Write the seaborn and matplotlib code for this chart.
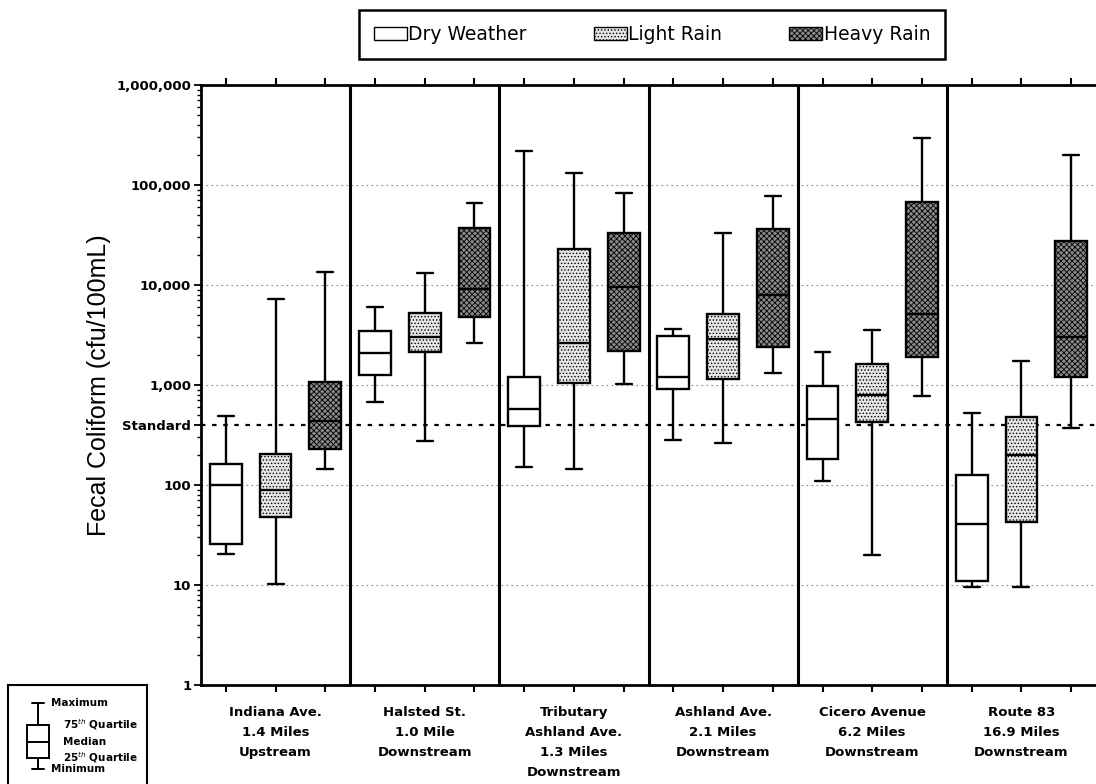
import pandas as pd
import numpy as np
import matplotlib
matplotlib.use('Agg')
import matplotlib.pyplot as plt
import seaborn as sns
from matplotlib.patches import Patch
from matplotlib.ticker import NullFormatter

# Site labels and sample conditions
sites = ['Indiana Ave.\n1.4 Miles\nUpstream',
         'Halsted St.\n1.0 Mile\nDownstream',
         'Tributary\nAshland Ave.\n1.3 Miles\nDownstream',
         'Ashland Ave.\n2.1 Miles\nDownstream',
         'Cicero Avenue\n6.2 Miles\nDownstream',
         'Route 83\n16.9 Miles\nDownstream']
conditions = ['Dry Weather', 'Light Rain', 'Heavy Rain']

# Five-number summaries per site: (min, 25th, median, 75th, max), cfu/100mL
dry_weather = [(20.6, 25.7, 101, 161, 493),
               (681, 1250, 2105, 3467, 5990),
               (152, 389, 571, 1211, 220000),
               (282, 919, 1211, 3090, 3660),
               (110, 182, 452, 984, 2160),
               (9.5, 11, 41, 125, 520)]
light_rain = [(10.3, 48, 88.5, 204, 7244),
              (277, 2138, 3040, 5210, 13300),
              (146, 1040, 2612, 22900, 131000),
              (261, 1140, 2864, 5130, 33400),
              (20, 423, 787, 1618, 3580),
              (9.5, 43, 200, 480, 1750)]
heavy_rain = [(144, 227, 437, 1080, 13400),
              (2650, 4750, 9060, 37400, 66500),
              (1023, 2188, 9490, 32900, 82600),
              (1329, 2417, 8000, 36600, 78200),
              (780, 1900, 5100, 68000, 294000),
              (370, 1200, 3000, 27500, 200000)]

standard = 400
y_ticks = [1, 10, 100, standard, 1000, 10000, 100000, 1000000]
y_ticklabels = ['1', '10', '100', 'Standard', '1,000', '10,000', '100,000', '1,000,000']
grid_levels = [10, 100, 1000, 10000, 100000]

# Legend key for the box elements
key_values = [0, 11, 27, 44, 66]
key_labels = ['Minimum', '25$^{th}$ Quartile', 'Median', '75$^{th}$ Quartile', 'Maximum']

rows = []
for cond, summaries in zip(conditions, [dry_weather, light_rain, heavy_rain]):
    for site, summ in zip(sites, summaries):
        for v in summ:
            rows.append({'site': site, 'condition': cond, 'value': v})
df = pd.DataFrame(rows)

sns.set_style('ticks')
plt.rcParams['font.family'] = ['DejaVu Sans']
plt.rcParams['hatch.linewidth'] = 0.6
plt.rcParams['hatch.color'] = 'black'
for key in ['text.color', 'axes.labelcolor', 'xtick.color', 'ytick.color', 'axes.edgecolor']:
    plt.rcParams[key] = 'black'

palette = {'Dry Weather': '#ffffff', 'Light Rain': '#e6e6e6', 'Heavy Rain': '#8a8a8a'}
hatches = {'Dry Weather': '', 'Light Rain': '.....', 'Heavy Rain': 'xxxxxx'}

fig = plt.figure(figsize=(10.96, 7.84), dpi=100)
ax = fig.add_axes([201 / 1096, 1 - 685 / 784, 895 / 1096, 600 / 784])

sns.boxplot(data=df, x='site', y='value', hue='condition', order=sites,
            hue_order=conditions, palette=palette, saturation=1, width=1.0,
            gap=0.36, whis=(0, 100), linecolor='black', linewidth=1.7,
            log_scale=True, legend=False, ax=ax)

# Apply fill patterns by face colour
for p in ax.patches:
    fc = matplotlib.colors.to_hex(p.get_facecolor())
    for cond, col in palette.items():
        if fc == col and hatches[cond]:
            p.set_hatch(hatches[cond])

ax.set_ylim(1, 1e6)
ax.set_xlim(-0.5, 5.5)

for g in grid_levels:
    ax.axhline(g, color='#888888', lw=0.8, ls=(0, (1.5, 3)), zorder=0)
ax.axhline(standard, color='black', lw=1.6, ls=(0, (2, 3)), zorder=1)
for x in np.arange(0.5, 5.5, 1.0):
    ax.axvline(x, color='black', lw=2.2, zorder=3)

ax.set_yticks(y_ticks)
ax.set_yticklabels(y_ticklabels, fontsize=9.5, fontweight='bold')
ax.yaxis.set_minor_formatter(NullFormatter())
ax.tick_params(axis='y', which='major', direction='out', length=5, width=1.3, pad=2)
ax.tick_params(axis='y', which='minor', direction='out', length=3, width=1.0)

box_pos = [i + o for i in range(len(sites)) for o in (-1 / 3, 0, 1 / 3)]
ax.xaxis.remove_overlapping_locs = False
ax.set_xticks(box_pos)
ax.set_xticklabels([''] * len(box_pos))
ax.set_xticks(range(len(sites)), minor=True)
ax.set_xticklabels(sites, minor=True, fontsize=9.5, fontweight='bold', linespacing=1.7)
ax.tick_params(axis='x', which='major', top=True, bottom=True, direction='out',
               length=5, width=1.5)
ax.tick_params(axis='x', which='minor', top=False, bottom=True, length=0, pad=15)

ax.set_xlabel('')
ax.set_ylabel('Fecal Coliform (cfu/100mL)', fontsize=18, family='Liberation Sans')
ax.yaxis.set_label_coords(-0.1, 0.5)

for side in ['left', 'top', 'bottom']:
    ax.spines[side].set_linewidth(2)
ax.spines['right'].set_visible(False)

# Top legend
handles = [Patch(facecolor=palette[c], edgecolor='black', hatch=hatches[c], label=c)
           for c in conditions]
leg = fig.legend(handles=handles, loc='upper center', bbox_to_anchor=(652 / 1096, 1 - 10 / 784),
                 ncol=3, frameon=True, fancybox=False, edgecolor='black', framealpha=1,
                 fontsize=13.5, handlelength=1.76, handleheight=0.75, handletextpad=0.1,
                 columnspacing=3.55, borderpad=0.8, borderaxespad=0)
leg.get_frame().set_linewidth(1.8)

# Box element key, bottom left
kax = fig.add_axes([8 / 1096, 0, 139 / 1096, 99 / 784])
sns.boxplot(y=key_values, ax=kax, whis=(0, 100), width=0.7, color='white',
            linecolor='black', linewidth=1.4)
kax.set_xlim(-0.95, 3.45)
kax.set_ylim(-15, 84)
for v, lab in zip(key_values, key_labels):
    xpos = 0.4 if lab in ('Minimum', 'Maximum') else 0.8
    kax.text(xpos, v, lab, fontsize=7.5, fontweight='bold', va='center', ha='left')
kax.set_xticks([])
kax.set_yticks([])
kax.set_ylabel('')
for side in ['left', 'top', 'right']:
    kax.spines[side].set_linewidth(1.5)
    kax.spines[side].set_visible(True)
kax.spines['bottom'].set_visible(False)

fig.savefig('out.png', dpi=100)
